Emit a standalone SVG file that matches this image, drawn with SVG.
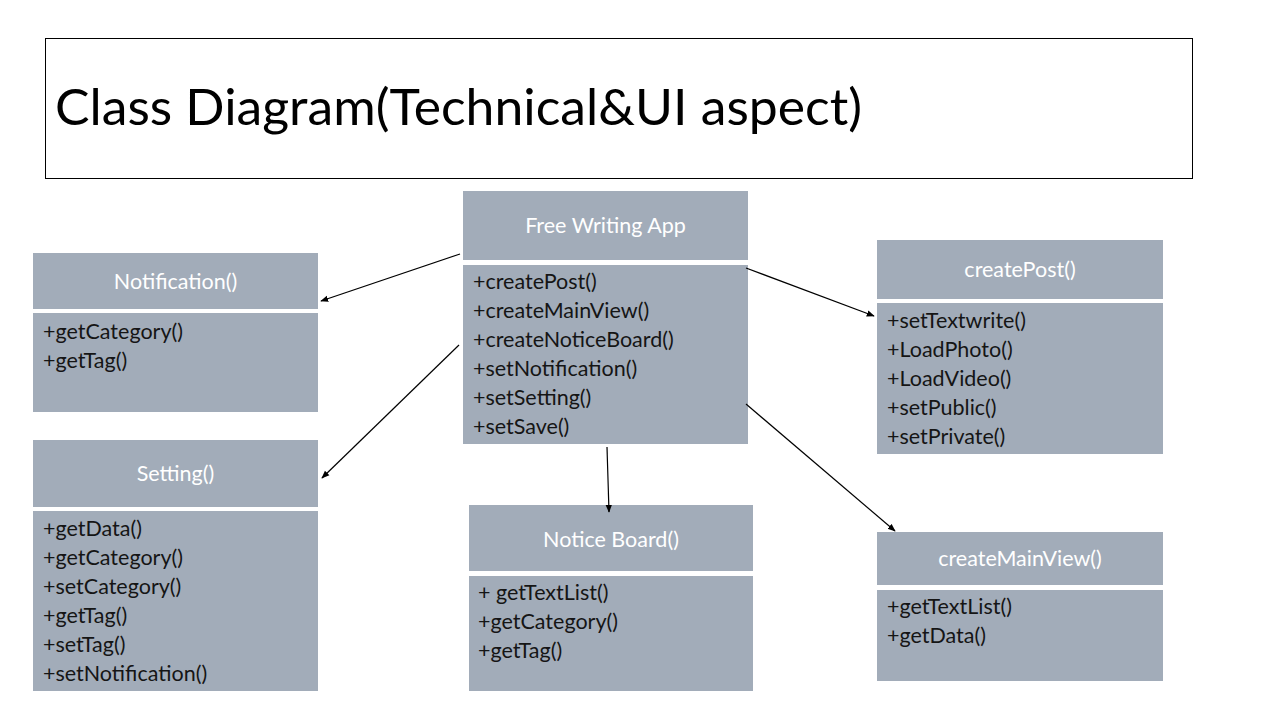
<svg xmlns="http://www.w3.org/2000/svg" width="1280" height="720" viewBox="0 0 1280 720">
<defs>
<marker id="ah" viewBox="0 0 10 10" refX="9" refY="5" markerWidth="8" markerHeight="8" orient="auto" markerUnits="userSpaceOnUse">
<path d="M0,1 L10,5 L0,9 z" fill="#000"/>
</marker>
</defs>
<style>
.box{fill:#A2ACB9}
.hd{font-family:Lato,"Open Sans",sans-serif;font-size:21.5px;fill:#fff;text-anchor:middle}
.it{font-family:Lato,"Open Sans",sans-serif;font-size:21.5px;fill:#151515}
.cn{stroke:#000;stroke-width:1.2;fill:none;marker-end:url(#ah)}
</style>
<rect width="1280" height="720" fill="#fff"/>
<g id="title">
<rect x="45.5" y="38.5" width="1147" height="140" fill="#fff" stroke="#000" stroke-width="1"/>
<text x="55" y="125" font-family="Lato,'Open Sans',sans-serif" font-size="50" fill="#000" textLength="807" lengthAdjust="spacingAndGlyphs">Class Diagram(Technical&amp;UI aspect)</text>
</g>
<g id="free-writing-app">
<rect class="box" x="463" y="191" width="285" height="69"/>
<rect class="box" x="463" y="265" width="285" height="179"/>
<text class="hd" x="605.5" y="233">Free Writing App</text>
<text class="it" x="473" y="289">+createPost()</text>
<text class="it" x="473" y="318">+createMainView()</text>
<text class="it" x="473" y="347">+createNoticeBoard()</text>
<text class="it" x="473" y="376">+setNotification()</text>
<text class="it" x="473" y="405">+setSetting()</text>
<text class="it" x="473" y="434">+setSave()</text>
</g>
<g id="notification">
<rect class="box" x="33" y="253" width="285" height="56"/>
<rect class="box" x="33" y="313" width="285" height="99"/>
<text class="hd" x="175.5" y="289">Notification()</text>
<text class="it" x="43" y="339">+getCategory()</text>
<text class="it" x="43" y="368">+getTag()</text>
</g>
<g id="setting">
<rect class="box" x="33" y="440" width="285" height="67"/>
<rect class="box" x="33" y="511" width="285" height="180"/>
<text class="hd" x="175.5" y="481">Setting()</text>
<text class="it" x="43" y="536">+getData()</text>
<text class="it" x="43" y="565">+getCategory()</text>
<text class="it" x="43" y="594">+setCategory()</text>
<text class="it" x="43" y="623">+getTag()</text>
<text class="it" x="43" y="652">+setTag()</text>
<text class="it" x="43" y="681">+setNotification()</text>
</g>
<g id="notice-board">
<rect class="box" x="469" y="505" width="284" height="66"/>
<rect class="box" x="469" y="576" width="284" height="115"/>
<text class="hd" x="611" y="547">Notice Board()</text>
<text class="it" x="478" y="600">+ getTextList()</text>
<text class="it" x="478" y="629">+getCategory()</text>
<text class="it" x="478" y="658">+getTag()</text>
</g>
<g id="create-post">
<rect class="box" x="877" y="240" width="286" height="59"/>
<rect class="box" x="877" y="303" width="286" height="151"/>
<text class="hd" x="1020" y="277">createPost()</text>
<text class="it" x="887" y="328">+setTextwrite()</text>
<text class="it" x="887" y="357">+LoadPhoto()</text>
<text class="it" x="887" y="386">+LoadVideo()</text>
<text class="it" x="887" y="415">+setPublic()</text>
<text class="it" x="887" y="444">+setPrivate()</text>
</g>
<g id="create-main-view">
<rect class="box" x="877" y="532" width="286" height="53"/>
<rect class="box" x="877" y="590" width="286" height="91"/>
<text class="hd" x="1020" y="566">createMainView()</text>
<text class="it" x="887" y="614">+getTextList()</text>
<text class="it" x="887" y="643">+getData()</text>
</g>
<g id="connectors">
<line class="cn" x1="460" y1="254" x2="321" y2="301"/>
<line class="cn" x1="459" y1="345" x2="322" y2="478"/>
<line class="cn" x1="607" y1="447" x2="609" y2="512"/>
<line class="cn" x1="746" y1="268" x2="874" y2="316"/>
<line class="cn" x1="746" y1="404" x2="895" y2="531"/>
</g>
</svg>
